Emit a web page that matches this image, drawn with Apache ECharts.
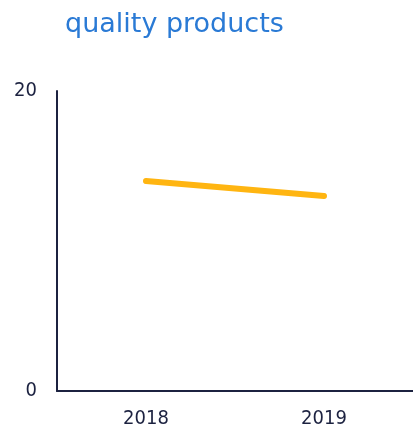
<!DOCTYPE html>
<html><head><meta charset="utf-8">
<script src="https://cdn.jsdelivr.net/npm/echarts@6/dist/echarts.min.js"></script>
<style>html,body{margin:0;padding:0;background:#fff}#c{width:413px;height:431px}</style>
</head><body><div id="c"></div>
<script>
const titleText = "quality products";
const categories = ["2018", "2019"];
const values = [14, 13];
const yTicks = [0, 20];

const chart = echarts.init(document.getElementById('c'));
chart.setOption({
  animation: false,
  title: {
    text: titleText, left: 60, top: 6,
    textStyle: {color: '#2a7ad5', fontSize: 27, fontWeight: 'normal', fontFamily: 'DejaVu Sans'}
  },
  grid: {left: 57, right: -4, top: 91, bottom: 40, containLabel: false},
  xAxis: {
    type: 'category', data: categories, boundaryGap: true,
    axisLine: {lineStyle: {color: '#1c2240', width: 2}},
    axisTick: {show: false},
    axisLabel: {color: '#1c2240', fontSize: 20, fontFamily: 'DejaVu Sans Condensed', margin: 18}
  },
  yAxis: {
    type: 'value', min: yTicks[0], max: yTicks[yTicks.length - 1], interval: 20,
    axisLine: {show: true, lineStyle: {color: '#1c2240', width: 2}},
    axisTick: {show: false},
    splitLine: {show: false},
    axisLabel: {color: '#1c2240', fontSize: 20, fontFamily: 'DejaVu Sans Condensed', margin: 20}
  },
  series: [{
    type: 'line', data: values, showSymbol: false, symbol: 'none',
    lineStyle: {color: '#ffb511', width: 6, cap: 'round'}
  }]
});
</script></body></html>
